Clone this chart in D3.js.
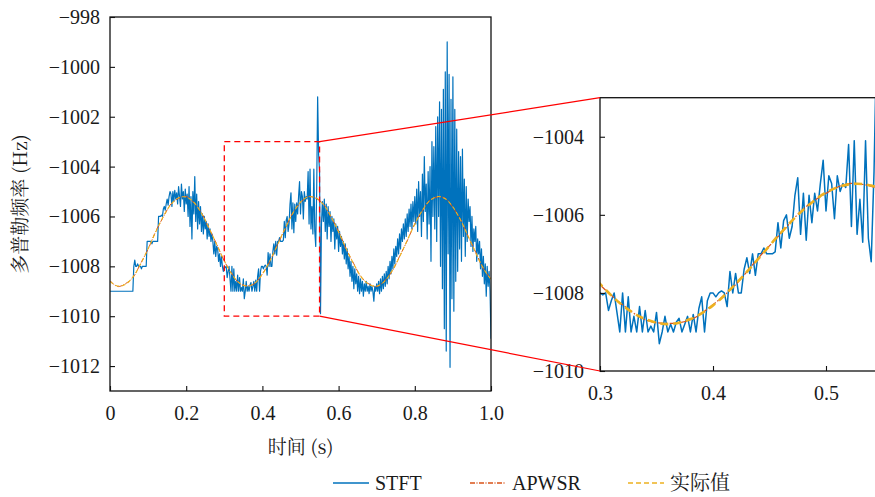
<!DOCTYPE html>
<html>
<head>
<meta charset="utf-8">
<script src="https://cdn.jsdelivr.net/npm/d3@7"></script>
<style>
  body { margin: 0; background: #fff; }
  svg { display: block; }
</style>
</head>
<body>
<svg id="chart" width="875" height="497"></svg>
<script>
// STFT estimate, one value every 2.5 ms from 0 to 1 s
var stftStep = 0.0025;
var stftHz = [
  -1009, -1009, -1009, -1009, -1009, -1009, -1009, -1009, -1009, -1009,
  -1009, -1009, -1009, -1009, -1009, -1009, -1009, -1009, -1009, -1009,
  -1009, -1009, -1009, -1009, -1009, -1008, -1007.75, -1008, -1008, -1007.9,
  -1008, -1008, -1008, -1008.1, -1008, -1008, -1008, -1008, -1008, -1007,
  -1007, -1007, -1007, -1007, -1007.1, -1007, -1007, -1007, -1007, -1007,
  -1007, -1006.0, -1006.0, -1006.0, -1005.95, -1006.0, -1005.7, -1005.6, -1005.75, -1005.5,
  -1005.3, -1005.55, -1005.2, -1005.0, -1005.1, -1005.6, -1005.0, -1005.4, -1004.95, -1005.3,
  -1005.05, -1005.5, -1004.8, -1005.2, -1005.6, -1004.7, -1005.3, -1005.0, -1005.8, -1004.9,
  -1005.5, -1005.1, -1006.0, -1004.8, -1006.4, -1005.2, -1006.9, -1005.0, -1005.9, -1004.4,
  -1006.2, -1005.1, -1006.5, -1005.4, -1006.3, -1005.6, -1006.6, -1005.9, -1006.7, -1006.0,
  -1006.5, -1006.2, -1006.9, -1006.3, -1006.8, -1006.5, -1007.0, -1006.7, -1007.0, -1007.5,
  -1007.0, -1007.6, -1007.2, -1007.3, -1007.8, -1007.5, -1008.0, -1007.6, -1008.0, -1008.2,
  -1008.0, -1008.05, -1008.0, -1008.45, -1008.2, -1008.0, -1008.5, -1009.0, -1008.0, -1009.0,
  -1008.1, -1009.0, -1008.6, -1009.0, -1008.35, -1009.0, -1008.45, -1009.0, -1008.85, -1009.0,
  -1008.5, -1009.3, -1009.0, -1008.6, -1009.0, -1008.8, -1009.0, -1008.75, -1008.65, -1009.0,
  -1008.8, -1008.6, -1009.0, -1008.55, -1009.0, -1008.4, -1008.1, -1009.0, -1008.2, -1008.0,
  -1008.0, -1008.1, -1008.0, -1007.95, -1008.0, -1008.35, -1007.45, -1008.0, -1007.5, -1008.0,
  -1008.0, -1007.4, -1007.1, -1007.5, -1007.0, -1007.55, -1007.0, -1007.0, -1006.85, -1007.0,
  -1007.0, -1007.0, -1006.95, -1006.2, -1006.85, -1006.15, -1006.0, -1006.6, -1006.3, -1005.5,
  -1005.05, -1006.5, -1005.45, -1006.65, -1005.5, -1006.2, -1005.45, -1005.9, -1005.2, -1004.6,
  -1005.9, -1005.0, -1005.2, -1006.1, -1005.0, -1005.4, -1005.2, -1005.3, -1004.2, -1006.3,
  -1004.1, -1006.5, -1005.6, -1006.7, -1004.1, -1006.6, -1007.2, -1004.9, -1001.2, -1003.5,
  -1004.2, -1009.9, -1006.3, -1005.4, -1006.2, -1005.3, -1006.6, -1005.5, -1006.9, -1005.6,
  -1006.4, -1005.8, -1007.0, -1006.0, -1006.6, -1006.1, -1007.3, -1006.3, -1006.9, -1006.4,
  -1007.4, -1006.6, -1007.2, -1006.8, -1007.5, -1007.0, -1007.7, -1007.1, -1007.9, -1007.3,
  -1008.1, -1007.6, -1008.4, -1007.8, -1008.6, -1008.0, -1008.9, -1008.1, -1008.7, -1008.3,
  -1009.0, -1008.4, -1009.1, -1008.5, -1009.0, -1008.6, -1009.2, -1008.7, -1009.0, -1008.6,
  -1009.0, -1008.8, -1009.1, -1008.7, -1009.0, -1008.8, -1009.0, -1009.4, -1008.8, -1009.0,
  -1008.7, -1009.0, -1008.6, -1009.1, -1008.5, -1009.0, -1008.4, -1008.9, -1008.3, -1008.8,
  -1008.2, -1008.7, -1008.0, -1008.5, -1007.8, -1008.3, -1007.6, -1008.1, -1007.3, -1007.9,
  -1007.2, -1007.6, -1006.9, -1007.5, -1006.7, -1007.3, -1006.5, -1007.0, -1006.3, -1006.9,
  -1006.1, -1006.8, -1005.9, -1006.6, -1005.7, -1006.4, -1005.5, -1006.5, -1005.4, -1006.2,
  -1005.2, -1006.3, -1004.9, -1006.6, -1004.6, -1006.0, -1005.0, -1006.8, -1004.3, -1006.2,
  -1003.6, -1005.8, -1004.7, -1006.9, -1004.2, -1006.3, -1004.0, -1007.8, -1003.0, -1006.0,
  -1003.2, -1006.5, -1002.4, -1007.0, -1002.0, -1006.0, -1001.4, -1008.0, -1001.7, -1008.9,
  -1000.9, -1010.5, -1000.2, -1011.4, -999.0, -1007.5, -1000.3, -1012.05, -1001.3, -1009.3,
  -1000.4, -1009.8, -1001.7, -1008.6, -1002.5, -1008.2, -1003.4, -1007.3, -1003.6, -1007.8,
  -1003.3, -1006.8, -1004.5, -1007.6, -1004.8, -1007.0, -1005.3, -1006.2, -1005.6, -1007.2,
  -1006.0, -1007.4, -1006.5, -1007.0, -1006.4, -1007.8, -1006.9, -1007.5, -1007.0, -1008.1,
  -1007.3, -1008.4, -1007.6, -1008.7, -1007.9, -1009.2, -1008.0, -1008.8, -1008.2, -1009.0,
  -1010.9
];

// APWSR estimate and actual value, every 20 ms
var smoothStep = 0.02;
var apwsrHz = [
  -1008.58, -1008.81, -1008.70, -1008.45, -1007.90, -1007.31, -1006.60, -1006.02, -1005.50, -1005.27,
  -1005.20, -1005.45, -1005.85, -1006.48, -1007.11, -1007.79, -1008.30, -1008.69, -1008.78, -1008.69,
  -1008.30, -1007.79, -1007.11, -1006.48, -1005.85, -1005.45, -1005.20, -1005.27, -1005.50, -1006.02,
  -1006.60, -1007.31, -1007.90, -1008.45, -1008.71, -1008.81, -1008.59, -1008.21, -1007.60, -1006.98,
  -1006.29, -1005.77, -1005.34, -1005.22, -1005.27, -1005.64, -1006.12, -1006.81, -1007.44, -1008.10,
  -1008.51
];
var actualHz = [
  -1008.61, -1008.79, -1008.73, -1008.43, -1007.92, -1007.29, -1006.62, -1006.00, -1005.52, -1005.25,
  -1005.22, -1005.43, -1005.87, -1006.46, -1007.13, -1007.77, -1008.32, -1008.67, -1008.80, -1008.67,
  -1008.32, -1007.77, -1007.13, -1006.46, -1005.87, -1005.43, -1005.22, -1005.25, -1005.52, -1006.00,
  -1006.62, -1007.29, -1007.92, -1008.43, -1008.73, -1008.79, -1008.61, -1008.19, -1007.62, -1006.96,
  -1006.31, -1005.75, -1005.36, -1005.20, -1005.29, -1005.62, -1006.14, -1006.79, -1007.46, -1008.08,
  -1008.53
];

var xTicks = [0, 0.2, 0.4, 0.6, 0.8, 1.0];
var yTicks = [-1012, -1010, -1008, -1006, -1004, -1002, -1000, -998];
var zoomX = [0.3, 0.55];
var zoomY = [-1010, -1003];
var zoomXTicks = [0.3, 0.4, 0.5];
var zoomYTicks = [-1010, -1008, -1006, -1004];
var seriesNames = ['STFT', 'APWSR', '实际值'];

var colors = { stft: '#0072BD', apwsr: '#D95319', actual: '#EDB120', zoom: '#ff0000', ink: '#1a1a1a' };
var latinFont = 'Liberation Serif';
var cjkFont = 'Noto Serif CJK SC';

var svg = d3.select('#chart');

function toPoints(values, step) {
  return values.map(function(v, i) { return { t: i * step, f: v }; });
}
var stftPts = toPoints(stftHz, stftStep);
var apwsrPts = toPoints(apwsrHz, smoothStep);
var actualPts = toPoints(actualHz, smoothStep);

// Draw one set of axes with the three series.
function drawPanel(opts) {
  var x = d3.scaleLinear().domain(opts.xDomain).range(opts.xRange);
  var y = d3.scaleLinear().domain(opts.yDomain).range(opts.yRange);
  var g = svg.append('g');
  var clipId = 'clip-' + opts.name;

  g.append('clipPath').attr('id', clipId)
    .append('rect')
      .attr('x', opts.xRange[0]).attr('y', opts.yRange[1])
      .attr('width', opts.xRange[1] - opts.xRange[0])
      .attr('height', opts.yRange[0] - opts.yRange[1]);

  var lines = g.append('g').attr('clip-path', 'url(#' + clipId + ')');
  var stepLine = d3.line().x(function(d) { return x(d.t); }).y(function(d) { return y(d.f); });
  var smoothLine = d3.line().curve(d3.curveCatmullRom)
    .x(function(d) { return x(d.t); }).y(function(d) { return y(d.f); });

  lines.append('path').datum(stftPts)
    .attr('d', stepLine)
    .attr('fill', 'none').attr('stroke', colors.stft)
    .attr('stroke-width', opts.lw.stft).attr('stroke-linejoin', 'round');
  lines.append('path').datum(apwsrPts)
    .attr('d', smoothLine)
    .attr('fill', 'none').attr('stroke', colors.apwsr)
    .attr('stroke-width', opts.lw.apwsr).attr('stroke-dasharray', opts.dash.apwsr);
  lines.append('path').datum(actualPts)
    .attr('d', smoothLine)
    .attr('fill', 'none').attr('stroke', colors.actual)
    .attr('stroke-width', opts.lw.actual).attr('stroke-dasharray', opts.dash.actual);

  var xAxis = d3.axisBottom(x).tickValues(opts.xTicks)
    .tickSizeInner(-5).tickSizeOuter(0).tickPadding(15)
    .tickFormat(function(d) { return d === 0 ? '0' : d3.format('.1f')(d); });
  var yAxis = d3.axisLeft(y).tickValues(opts.yTicks)
    .tickSizeInner(-5).tickSizeOuter(0).tickPadding(opts.yPad)
    .tickFormat(d3.format('d'));

  var gx = g.append('g').attr('transform', 'translate(0,' + opts.yRange[0] + ')').call(xAxis);
  var gy = g.append('g').attr('transform', 'translate(' + opts.xRange[0] + ',0)').call(yAxis);
  [gx, gy].forEach(function(ax) {
    ax.attr('font-family', latinFont).attr('font-size', 20);
    ax.select('.domain').remove();
    ax.selectAll('line').attr('stroke', '#111').attr('stroke-width', 1.1);
    ax.selectAll('text').attr('fill', colors.ink).attr('font-family', latinFont);
  });

  g.append('rect')
    .attr('x', opts.xRange[0]).attr('y', opts.yRange[1])
    .attr('width', opts.xRange[1] - opts.xRange[0])
    .attr('height', opts.yRange[0] - opts.yRange[1])
    .attr('fill', 'none').attr('stroke', '#111').attr('stroke-width', 1.3);

  return { x: x, y: y, g: g };
}

var main = drawPanel({
  name: 'main',
  xDomain: [0, 1], xRange: [110, 491],
  yDomain: [-1013, -998], yRange: [391, 17],
  xTicks: xTicks, yTicks: yTicks, yPad: 10,
  lw: { stft: 1.2, apwsr: 1, actual: 1.1 },
  dash: { apwsr: '5,1.5,1,1.5', actual: '4,2.5' }
});

var inset = drawPanel({
  name: 'inset',
  xDomain: zoomX, xRange: [600, 600 + (zoomX[1] - zoomX[0]) * 1130],
  yDomain: zoomY, yRange: [371, 97.7],
  xTicks: zoomXTicks, yTicks: zoomYTicks, yPad: 16,
  lw: { stft: 1.5, apwsr: 1.2, actual: 2.6 },
  dash: { apwsr: '6,2,1.5,2', actual: '8,5' }
});

// Zoom rectangle on the main axes
var zx0 = main.x(zoomX[0]), zx1 = main.x(zoomX[1]);
var zy0 = main.y(zoomY[1]), zy1 = main.y(zoomY[0]);
svg.append('rect')
  .attr('x', zx0).attr('y', zy0)
  .attr('width', zx1 - zx0).attr('height', zy1 - zy0)
  .attr('fill', 'none').attr('stroke', colors.zoom)
  .attr('stroke-width', 1.3).attr('stroke-dasharray', '6,4');

// Connector lines to the inset corners
var corners = [
  [zx1, zy0, inset.x(zoomX[0]), inset.y(zoomY[1])],
  [zx1, zy1, inset.x(zoomX[0]), inset.y(zoomY[0])]
];
svg.selectAll('line.connector').data(corners).enter()
  .append('line').attr('class', 'connector')
  .attr('x1', function(d) { return d[0]; }).attr('y1', function(d) { return d[1]; })
  .attr('x2', function(d) { return d[2]; }).attr('y2', function(d) { return d[3]; })
  .attr('stroke', colors.zoom).attr('stroke-width', 1.2);

// Axis titles (CJK serif font, which also carries Latin glyphs)
svg.append('text')
  .attr('x', 300.5).attr('y', 454)
  .attr('text-anchor', 'middle').attr('font-size', 19)
  .attr('font-family', cjkFont).attr('fill', colors.ink)
  .text('时间 (s)');
svg.append('text')
  .attr('transform', 'translate(27,204) rotate(-90)')
  .attr('text-anchor', 'middle').attr('font-size', 19)
  .attr('font-family', cjkFont).attr('fill', colors.ink)
  .text('多普勒频率 (Hz)');

// Legend
var legendItems = [
  { name: seriesNames[0], color: colors.stft, dash: null, x: 333, font: latinFont },
  { name: seriesNames[1], color: colors.apwsr, dash: '5,1.5,1,1.5', x: 470, font: latinFont },
  { name: seriesNames[2], color: colors.actual, dash: '5,3', x: 628, font: cjkFont }
];
var legend = svg.append('g').attr('transform', 'translate(0,483)');
var item = legend.selectAll('g').data(legendItems).enter().append('g')
  .attr('transform', function(d) { return 'translate(' + d.x + ',0)'; });
item.append('line')
  .attr('x1', 0).attr('x2', 36).attr('y1', 0).attr('y2', 0)
  .attr('stroke', function(d) { return d.color; })
  .attr('stroke-width', 1.3)
  .attr('stroke-dasharray', function(d) { return d.dash; });
item.append('text')
  .attr('x', 42).attr('y', 7)
  .attr('font-size', 20)
  .attr('font-family', function(d) { return d.font; })
  .attr('fill', colors.ink)
  .text(function(d) { return d.name; });
</script>
</body>
</html>
